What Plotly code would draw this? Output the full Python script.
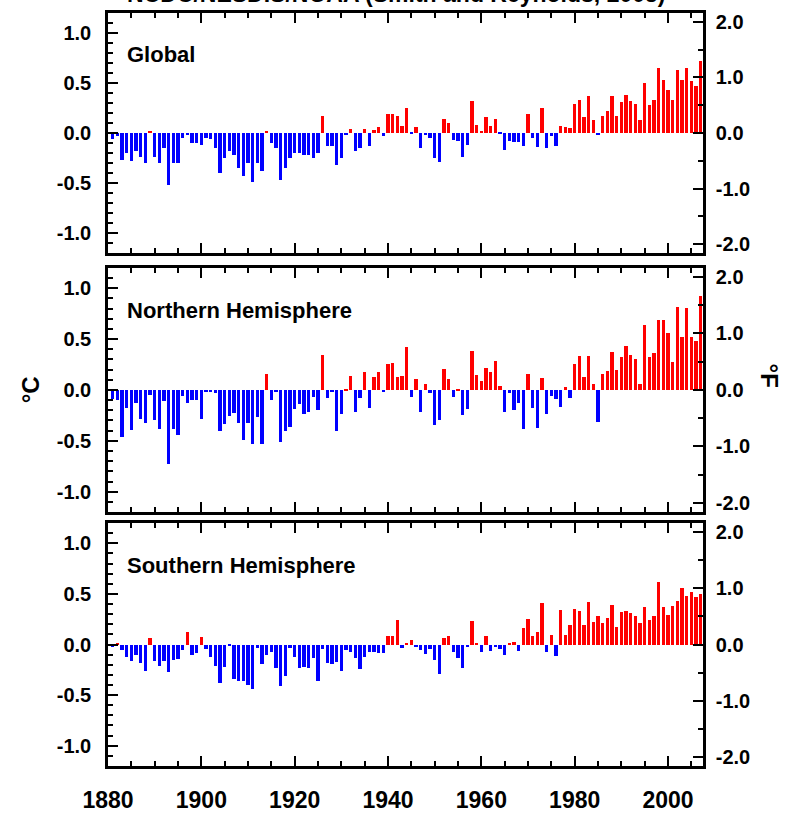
import plotly.graph_objects as go
from plotly.subplots import make_subplots

# ---------------- data (anomalies in deg C) ----------------
years = list(range(1881, 2008))

global_anom = [
    -0.06, -0.03, -0.27, -0.20, -0.28, -0.18, -0.24, -0.30, 0.01, -0.24,
    -0.30, -0.15, -0.52, -0.30, -0.30, -0.05, -0.02, -0.10, -0.10, -0.12,
    -0.05, -0.06, -0.15, -0.40, -0.25, -0.18, -0.22, -0.35, -0.43, -0.30,
    -0.49, -0.30, -0.38, 0.01, -0.10, -0.15, -0.47, -0.35, -0.25, -0.20,
    -0.20, -0.22, -0.22, -0.25, -0.20, 0.17, -0.13, -0.13, -0.32, -0.25,
    -0.02, 0.04, -0.18, -0.15, 0.04, -0.13, 0.03, 0.06, -0.03, 0.19,
    0.19, 0.17,
    0.07, 0.25, -0.01, 0.06, -0.15, -0.02, -0.05, -0.25, -0.29, 0.14,
    0.10, -0.07, -0.08, -0.24, -0.12, 0.32, 0.08, 0.01, 0.16, 0.07,
    0.14, -0.01, -0.17, -0.08, -0.09, -0.09, -0.13, 0.19, -0.05, -0.14,
    0.25, -0.15, -0.03, -0.13, 0.07, 0.06, 0.05, 0.29, 0.33, 0.16,
    0.37, 0.13, -0.02, 0.17, 0.22, 0.37, 0.17, 0.31, 0.38, 0.32,
    0.29, 0.13, 0.50, 0.28, 0.33, 0.65, 0.53, 0.43, 0.33, 0.63,
    0.53, 0.65, 0.52, 0.47, 0.72,
]

nh_anom = [
    -0.09, -0.10, -0.46, -0.18, -0.39, -0.13, -0.28, -0.32, -0.05, -0.29,
    -0.38, -0.11, -0.73, -0.38, -0.44, -0.06, -0.13, -0.10, -0.10, -0.28,
    -0.01, -0.01, -0.03, -0.40, -0.33, -0.26, -0.23, -0.32, -0.49, -0.32,
    -0.53, -0.27, -0.53, 0.16, -0.10, -0.02, -0.51, -0.40, -0.36, -0.19,
    -0.14, -0.24, -0.22, -0.07, -0.20, 0.34, -0.08, -0.01, -0.40, -0.24,
    0.01, 0.14, -0.22, -0.08, 0.18, -0.18, 0.13, 0.18, -0.01, 0.26,
    0.27, 0.13,
    0.14, 0.42, -0.07, 0.11, -0.22, 0.06, -0.03, -0.34, -0.29, 0.21,
    0.11, -0.07, 0.01, -0.25, -0.19, 0.38, 0.15, 0.09, 0.22, 0.18,
    0.29, 0.04, -0.22, -0.03, -0.20, -0.13, -0.38, 0.16, -0.18, -0.37,
    0.12, -0.24, -0.06, -0.09, -0.17, 0.03, -0.08, 0.26, 0.33, 0.13,
    0.33, 0.06, -0.31, 0.16, 0.19, 0.37, 0.20, 0.32, 0.43, 0.34,
    0.31, 0.06, 0.64, 0.32, 0.36, 0.69, 0.69, 0.56, 0.28, 0.82,
    0.52, 0.81, 0.52, 0.48, 0.92,
]

sh_anom = [
    -0.02, 0.005, -0.05, -0.12, -0.16, -0.10, -0.18, -0.26, 0.06, -0.16,
    -0.21, -0.16, -0.27, -0.15, -0.14, -0.05, 0.12, -0.10, -0.08, 0.07,
    -0.04, -0.12, -0.21, -0.38, -0.22, -0.01, -0.34, -0.36, -0.36, -0.40,
    -0.44, -0.03, -0.19, -0.10, -0.07, -0.23, -0.41, -0.31, -0.03, -0.12,
    -0.23, -0.22, -0.23, -0.13, -0.36, -0.04, -0.18, -0.19, -0.17, -0.26,
    -0.05, -0.07, -0.13, -0.24, -0.12, -0.07, -0.07, -0.08, -0.08, 0.08,
    0.08, 0.24,
    -0.03, 0.005, 0.04, -0.02, -0.05, -0.09, -0.04, -0.15, -0.29, 0.06,
    0.08, -0.07, -0.13, -0.23, -0.02, 0.23, 0.01, -0.07, 0.08, -0.06,
    -0.02, -0.04, -0.10, 0.005, 0.02, -0.06, 0.16, 0.25, 0.08, 0.12,
    0.41, -0.07, 0.09, -0.11, 0.34, 0.09, 0.19, 0.35, 0.33, 0.19,
    0.42, 0.22, 0.28, 0.21, 0.26, 0.39, 0.17, 0.32, 0.33, 0.31,
    0.28, 0.21, 0.37, 0.24, 0.28, 0.62, 0.37, 0.29, 0.38, 0.43,
    0.56, 0.48, 0.52, 0.47, 0.50,
]

panel_names = ["Global", "Northern Hemisphere", "Southern Hemisphere"]
x_ticks = [1880, 1900, 1920, 1940, 1960, 1980, 2000]
x_labels = ["1880", "1900", "1920", "1940", "1960", "1980", "2000"]
c_ticks = [-1.0, -0.5, 0.0, 0.5, 1.0]
c_labels = ["-1.0", "-0.5", "0.0", "0.5", "1.0"]
f_ticks = [-2.0, -1.0, 0.0, 1.0, 2.0]
f_labels = ["-2.0", "-1.0", "0.0", "1.0", "2.0"]
title_text = "NCDC/NESDIS/NOAA (Smith and Reynolds, 2005)"

# ---------------- figure ----------------
RED = "#ff0000"
BLUE = "#0000ff"
FONT = "Liberation Sans"

fig = make_subplots(rows=3, cols=1, specs=[[{"secondary_y": True}]] * 3,
                    vertical_spacing=0.02)

series = [global_anom, nh_anom, sh_anom]
for i, vals in enumerate(series):
    colors = [RED if v >= 0 else BLUE for v in vals]
    fig.add_trace(go.Bar(x=years, y=vals, marker_color=colors,
                         marker_line_width=0, width=0.72,
                         showlegend=False, hoverinfo="x+y"),
                  row=i + 1, col=1, secondary_y=False)
    # invisible helper so the right-hand (deg F) axis is drawn
    fig.add_trace(go.Scatter(x=[years[0]], y=[0], mode="markers",
                             marker=dict(opacity=0), showlegend=False,
                             hoverinfo="skip"),
                  row=i + 1, col=1, secondary_y=True)

domains = [[0.6813, 1.0], [0.3373, 0.6614], [0.0, 0.3227]]
tickfont = dict(family=FONT, size=20, color="black", weight="bold")

for i in range(3):
    xa = "xaxis" if i == 0 else f"xaxis{i + 1}"
    ya = "yaxis" if i == 0 else f"yaxis{2 * i + 1}"
    ya2 = f"yaxis{2 * i + 2}"
    fig.layout[xa].update(
        domain=[0, 1],
        range=[1880, 2007.5], tickvals=x_ticks, ticktext=x_labels,
        ticks="inside", ticklen=10, tickwidth=2, tickcolor="black",
        minor=dict(dtick=5, tick0=1880, ticks="inside", ticklen=5,
                   tickwidth=2, tickcolor="black"),
        showline=True, linewidth=2.5, linecolor="black", mirror="ticks",
        showgrid=False, zeroline=False, automargin=False,
        showticklabels=(i == 2), tickfont=dict(family=FONT, size=23,
                                               color="black", weight="bold"),
        ticklabelstandoff=12,
    )
    fig.layout[ya].update(
        domain=domains[i], range=[-1.2, 1.2], tickvals=c_ticks,
        ticktext=c_labels, ticks="inside", ticklen=10, tickwidth=2,
        tickcolor="black",
        minor=dict(dtick=0.1, tick0=0, ticks="inside", ticklen=5,
                   tickwidth=2, tickcolor="black"),
        showline=True, linewidth=2.5, linecolor="black", mirror=False,
        showgrid=False, zeroline=False, tickfont=tickfont, automargin=False,
        ticklabelstandoff=10,
    )
    fig.layout[ya2].update(
        range=[-2.16, 2.16], tickvals=f_ticks, ticktext=f_labels,
        ticks="inside", ticklen=10, tickwidth=2, tickcolor="black",
        minor=dict(dtick=0.5, tick0=0, ticks="inside", ticklen=5,
                   tickwidth=2, tickcolor="black"),
        showline=True, linewidth=2.5, linecolor="black", automargin=False,
        showgrid=False, zeroline=False, tickfont=tickfont,
        ticklabelstandoff=6,
    )
    fig.add_annotation(text=panel_names[i], xref=f"{xa.replace('axis', '')} domain",
                       yref=f"{ya.replace('axis', '')} domain",
                       x=0.028, y=0.825, xanchor="left", yanchor="middle",
                       showarrow=False,
                       font=dict(family=FONT, size=22, color="black",
                                 weight="bold"))

# axis unit labels
fig.add_annotation(text="°C", xref="paper", yref="paper", x=-0.131, y=0.499,
                   textangle=-90, showarrow=False, xanchor="center",
                   yanchor="middle",
                   font=dict(family=FONT, size=24, color="black", weight="bold"))
fig.add_annotation(text="°F", xref="paper", yref="paper", x=1.112, y=0.519,
                   textangle=90, showarrow=False, xanchor="center",
                   yanchor="middle",
                   font=dict(family=FONT, size=24, color="black", weight="bold"))
# title (cut off at the top, as in the reference)
fig.add_annotation(text=title_text, xref="paper", yref="paper", x=0.484,
                   y=1.0053, xanchor="center", yanchor="bottom",
                   showarrow=False,
                   font=dict(family=FONT, size=23, color="black", weight="bold"))

fig.update_layout(
    width=788, height=816,
    margin=dict(l=108, r=85, t=13, b=50, autoexpand=False),
    paper_bgcolor="white", plot_bgcolor="white",
    bargap=0, showlegend=False,
)

fig.write_html("out.html", config={"displayModeBar": False},
               post_script="document.body.style.margin='0';")
